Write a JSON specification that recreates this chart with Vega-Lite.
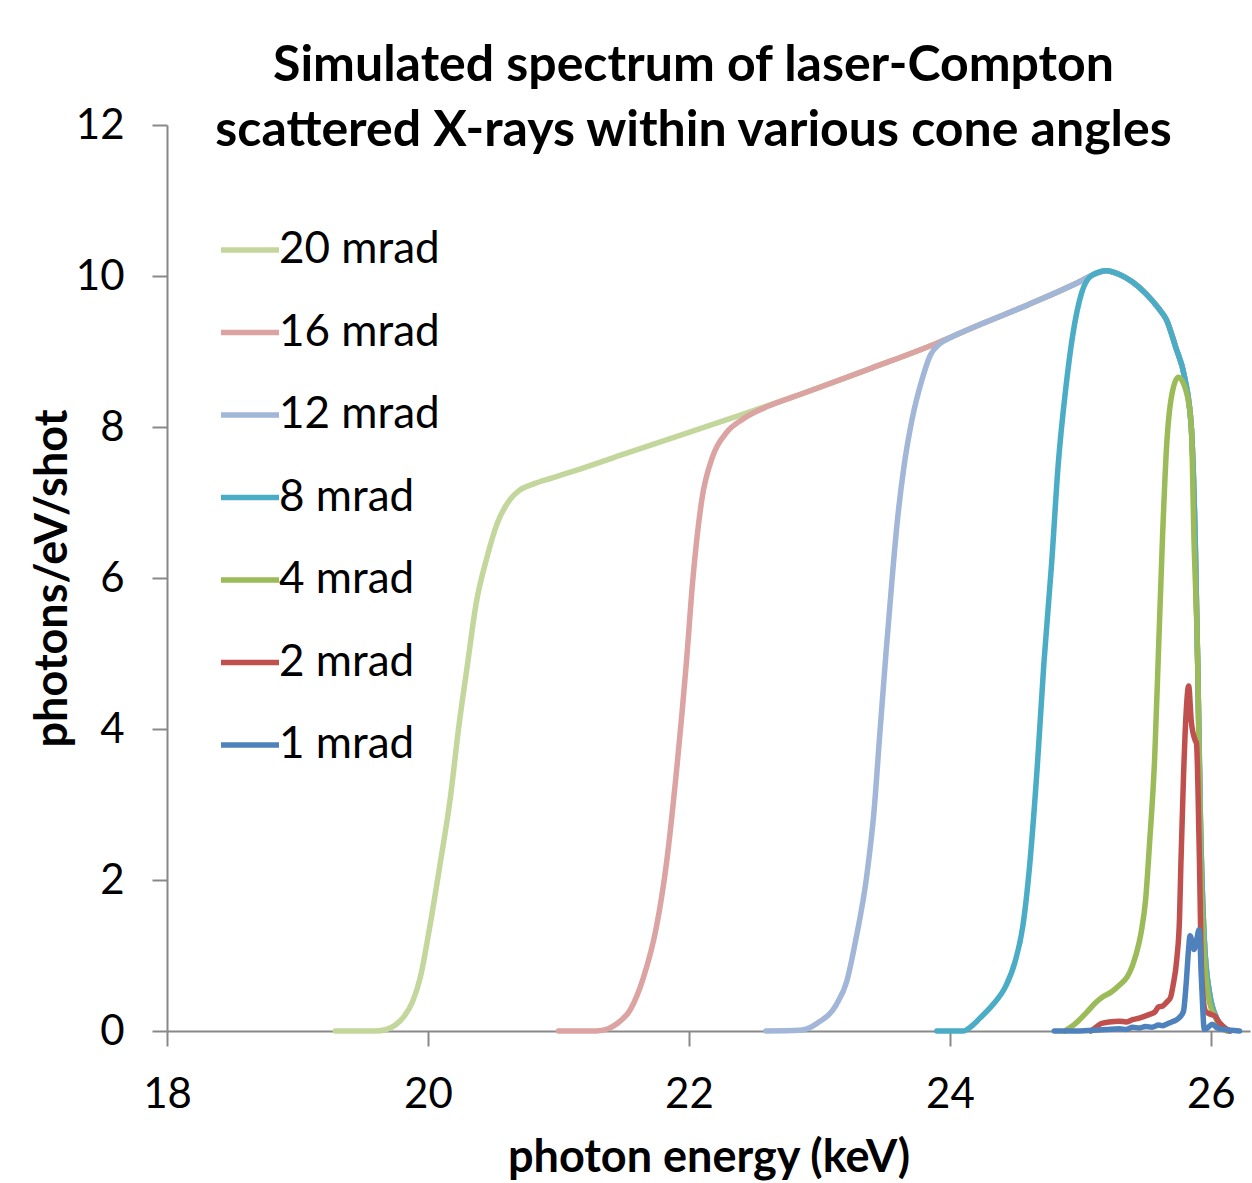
{
  "$schema": "https://vega.github.io/schema/vega-lite/v6.json",
  "autosize": "none",
  "width": 1083,
  "height": 906,
  "padding": {"left": 167, "top": 125, "right": 2, "bottom": 152},
  "background": "white",
  "title": {
    "text": ["Simulated spectrum of laser-Compton", "scattered X-rays within various cone angles"],
    "font": "Lato",
    "fontSize": 50,
    "fontWeight": "bold",
    "color": "black",
    "anchor": "middle",
    "dx": -15,
    "offset": -52,
    "lineHeight": 65
  },
  "config": {
    "view": {"stroke": null},
    "axis": {
      "grid": false,
      "domainColor": "#888888",
      "domainWidth": 2,
      "tickColor": "#888888",
      "tickWidth": 2,
      "tickSize": 15,
      "labelFont": "Lato",
      "labelFontSize": 42,
      "labelColor": "black",
      "labelPadding": 28,
      "labelFlush": false,
      "titleFont": "Lato",
      "titleFontSize": 45,
      "titleFontWeight": "bold",
      "titleColor": "black"
    },
    "legend": {
      "labelFont": "Lato",
      "labelFontSize": 44,
      "labelColor": "black",
      "labelLimit": 500
    }
  },
  "data": {
    "values": [
      {"angle": "20 mrad", "energy": 19.29, "photons": 0},
      {"angle": "20 mrad", "energy": 19.45, "photons": 0},
      {"angle": "20 mrad", "energy": 19.6, "photons": 0},
      {"angle": "20 mrad", "energy": 19.68, "photons": 0.02},
      {"angle": "20 mrad", "energy": 19.75, "photons": 0.08},
      {"angle": "20 mrad", "energy": 19.82, "photons": 0.2},
      {"angle": "20 mrad", "energy": 19.88, "photons": 0.38},
      {"angle": "20 mrad", "energy": 19.94, "photons": 0.7},
      {"angle": "20 mrad", "energy": 20.01, "photons": 1.34},
      {"angle": "20 mrad", "energy": 20.09, "photons": 2.18},
      {"angle": "20 mrad", "energy": 20.17, "photons": 3.07},
      {"angle": "20 mrad", "energy": 20.24, "photons": 4.08},
      {"angle": "20 mrad", "energy": 20.3, "photons": 4.82},
      {"angle": "20 mrad", "energy": 20.37, "photons": 5.67},
      {"angle": "20 mrad", "energy": 20.45, "photons": 6.26},
      {"angle": "20 mrad", "energy": 20.53, "photons": 6.72},
      {"angle": "20 mrad", "energy": 20.63, "photons": 7.04},
      {"angle": "20 mrad", "energy": 20.7, "photons": 7.16},
      {"angle": "20 mrad", "energy": 20.8, "photons": 7.24},
      {"angle": "20 mrad", "energy": 20.96, "photons": 7.33},
      {"angle": "20 mrad", "energy": 21.16, "photons": 7.44},
      {"angle": "20 mrad", "energy": 21.5, "photons": 7.64},
      {"angle": "20 mrad", "energy": 22.0, "photons": 7.93},
      {"angle": "20 mrad", "energy": 22.4, "photons": 8.16},
      {"angle": "20 mrad", "energy": 22.85, "photons": 8.43},
      {"angle": "20 mrad", "energy": 23.4, "photons": 8.78},
      {"angle": "20 mrad", "energy": 23.9, "photons": 9.11},
      {"angle": "20 mrad", "energy": 24.25, "photons": 9.37},
      {"angle": "20 mrad", "energy": 24.6, "photons": 9.62},
      {"angle": "20 mrad", "energy": 25.0, "photons": 9.93},
      {"angle": "20 mrad", "energy": 25.1, "photons": 10.02},
      {"angle": "20 mrad", "energy": 25.2, "photons": 10.07},
      {"angle": "20 mrad", "energy": 25.3, "photons": 10.02},
      {"angle": "20 mrad", "energy": 25.4, "photons": 9.92},
      {"angle": "20 mrad", "energy": 25.5, "photons": 9.77},
      {"angle": "20 mrad", "energy": 25.6, "photons": 9.57},
      {"angle": "20 mrad", "energy": 25.66, "photons": 9.42},
      {"angle": "20 mrad", "energy": 25.73, "photons": 9.06},
      {"angle": "20 mrad", "energy": 25.8, "photons": 8.65},
      {"angle": "20 mrad", "energy": 25.85, "photons": 8.0},
      {"angle": "20 mrad", "energy": 25.88, "photons": 6.5},
      {"angle": "20 mrad", "energy": 25.9, "photons": 4.8},
      {"angle": "20 mrad", "energy": 25.92, "photons": 2.8},
      {"angle": "20 mrad", "energy": 25.95, "photons": 1.2},
      {"angle": "20 mrad", "energy": 25.99, "photons": 0.5},
      {"angle": "20 mrad", "energy": 26.05, "photons": 0.15},
      {"angle": "20 mrad", "energy": 26.1, "photons": 0.05},
      {"angle": "20 mrad", "energy": 26.15, "photons": 0},

      {"angle": "16 mrad", "energy": 21.0, "photons": 0},
      {"angle": "16 mrad", "energy": 21.29, "photons": 0},
      {"angle": "16 mrad", "energy": 21.38, "photons": 0.03},
      {"angle": "16 mrad", "energy": 21.45, "photons": 0.1},
      {"angle": "16 mrad", "energy": 21.55, "photons": 0.28},
      {"angle": "16 mrad", "energy": 21.65, "photons": 0.7},
      {"angle": "16 mrad", "energy": 21.75, "photons": 1.37},
      {"angle": "16 mrad", "energy": 21.83, "photons": 2.25},
      {"angle": "16 mrad", "energy": 21.9, "photons": 3.36},
      {"angle": "16 mrad", "energy": 21.98, "photons": 4.87},
      {"angle": "16 mrad", "energy": 22.03, "photons": 5.98},
      {"angle": "16 mrad", "energy": 22.1, "photons": 7.05},
      {"angle": "16 mrad", "energy": 22.18, "photons": 7.6},
      {"angle": "16 mrad", "energy": 22.29, "photons": 7.93},
      {"angle": "16 mrad", "energy": 22.41, "photons": 8.1},
      {"angle": "16 mrad", "energy": 22.6, "photons": 8.27},
      {"angle": "16 mrad", "energy": 22.85, "photons": 8.43},
      {"angle": "16 mrad", "energy": 23.4, "photons": 8.78},
      {"angle": "16 mrad", "energy": 23.9, "photons": 9.11},
      {"angle": "16 mrad", "energy": 24.25, "photons": 9.37},
      {"angle": "16 mrad", "energy": 24.6, "photons": 9.62},
      {"angle": "16 mrad", "energy": 25.0, "photons": 9.93},
      {"angle": "16 mrad", "energy": 25.1, "photons": 10.02},
      {"angle": "16 mrad", "energy": 25.2, "photons": 10.07},
      {"angle": "16 mrad", "energy": 25.3, "photons": 10.02},
      {"angle": "16 mrad", "energy": 25.4, "photons": 9.92},
      {"angle": "16 mrad", "energy": 25.5, "photons": 9.77},
      {"angle": "16 mrad", "energy": 25.6, "photons": 9.57},
      {"angle": "16 mrad", "energy": 25.66, "photons": 9.42},
      {"angle": "16 mrad", "energy": 25.73, "photons": 9.06},
      {"angle": "16 mrad", "energy": 25.8, "photons": 8.65},
      {"angle": "16 mrad", "energy": 25.85, "photons": 8.0},
      {"angle": "16 mrad", "energy": 25.88, "photons": 6.5},
      {"angle": "16 mrad", "energy": 25.9, "photons": 4.8},
      {"angle": "16 mrad", "energy": 25.92, "photons": 2.8},
      {"angle": "16 mrad", "energy": 25.95, "photons": 1.2},
      {"angle": "16 mrad", "energy": 25.99, "photons": 0.5},
      {"angle": "16 mrad", "energy": 26.05, "photons": 0.15},
      {"angle": "16 mrad", "energy": 26.1, "photons": 0.05},
      {"angle": "16 mrad", "energy": 26.15, "photons": 0},

      {"angle": "12 mrad", "energy": 22.59, "photons": 0},
      {"angle": "12 mrad", "energy": 22.85, "photons": 0.01},
      {"angle": "12 mrad", "energy": 22.92, "photons": 0.04},
      {"angle": "12 mrad", "energy": 22.98, "photons": 0.1},
      {"angle": "12 mrad", "energy": 23.13, "photons": 0.35},
      {"angle": "12 mrad", "energy": 23.21, "photons": 0.66},
      {"angle": "12 mrad", "energy": 23.28, "photons": 1.22},
      {"angle": "12 mrad", "energy": 23.36, "photons": 2.02},
      {"angle": "12 mrad", "energy": 23.42, "photons": 2.94},
      {"angle": "12 mrad", "energy": 23.46, "photons": 3.87},
      {"angle": "12 mrad", "energy": 23.51, "photons": 5.0},
      {"angle": "12 mrad", "energy": 23.56, "photons": 6.05},
      {"angle": "12 mrad", "energy": 23.6, "photons": 6.8},
      {"angle": "12 mrad", "energy": 23.65, "photons": 7.5},
      {"angle": "12 mrad", "energy": 23.71, "photons": 8.1},
      {"angle": "12 mrad", "energy": 23.79, "photons": 8.65},
      {"angle": "12 mrad", "energy": 23.85, "photons": 8.95},
      {"angle": "12 mrad", "energy": 23.92, "photons": 9.1},
      {"angle": "12 mrad", "energy": 24.0, "photons": 9.18},
      {"angle": "12 mrad", "energy": 24.25, "photons": 9.37},
      {"angle": "12 mrad", "energy": 24.6, "photons": 9.62},
      {"angle": "12 mrad", "energy": 25.0, "photons": 9.93},
      {"angle": "12 mrad", "energy": 25.1, "photons": 10.02},
      {"angle": "12 mrad", "energy": 25.2, "photons": 10.07},
      {"angle": "12 mrad", "energy": 25.3, "photons": 10.02},
      {"angle": "12 mrad", "energy": 25.4, "photons": 9.92},
      {"angle": "12 mrad", "energy": 25.5, "photons": 9.77},
      {"angle": "12 mrad", "energy": 25.6, "photons": 9.57},
      {"angle": "12 mrad", "energy": 25.66, "photons": 9.42},
      {"angle": "12 mrad", "energy": 25.73, "photons": 9.06},
      {"angle": "12 mrad", "energy": 25.8, "photons": 8.65},
      {"angle": "12 mrad", "energy": 25.85, "photons": 8.0},
      {"angle": "12 mrad", "energy": 25.88, "photons": 6.5},
      {"angle": "12 mrad", "energy": 25.9, "photons": 4.8},
      {"angle": "12 mrad", "energy": 25.92, "photons": 2.8},
      {"angle": "12 mrad", "energy": 25.95, "photons": 1.2},
      {"angle": "12 mrad", "energy": 25.99, "photons": 0.5},
      {"angle": "12 mrad", "energy": 26.05, "photons": 0.15},
      {"angle": "12 mrad", "energy": 26.1, "photons": 0.05},
      {"angle": "12 mrad", "energy": 26.15, "photons": 0},

      {"angle": "8 mrad", "energy": 23.9, "photons": 0},
      {"angle": "8 mrad", "energy": 24.1, "photons": 0},
      {"angle": "8 mrad", "energy": 24.17, "photons": 0.07},
      {"angle": "8 mrad", "energy": 24.23, "photons": 0.17},
      {"angle": "8 mrad", "energy": 24.33, "photons": 0.35},
      {"angle": "8 mrad", "energy": 24.43, "photons": 0.6},
      {"angle": "8 mrad", "energy": 24.5, "photons": 0.92},
      {"angle": "8 mrad", "energy": 24.56, "photons": 1.4},
      {"angle": "8 mrad", "energy": 24.61, "photons": 2.17},
      {"angle": "8 mrad", "energy": 24.67, "photons": 3.51},
      {"angle": "8 mrad", "energy": 24.72, "photons": 4.86},
      {"angle": "8 mrad", "energy": 24.78, "photons": 6.2},
      {"angle": "8 mrad", "energy": 24.83, "photons": 7.5},
      {"angle": "8 mrad", "energy": 24.89, "photons": 8.54},
      {"angle": "8 mrad", "energy": 24.94, "photons": 9.2},
      {"angle": "8 mrad", "energy": 25.01, "photons": 9.78},
      {"angle": "8 mrad", "energy": 25.09, "photons": 10.01},
      {"angle": "8 mrad", "energy": 25.2, "photons": 10.07},
      {"angle": "8 mrad", "energy": 25.3, "photons": 10.02},
      {"angle": "8 mrad", "energy": 25.4, "photons": 9.92},
      {"angle": "8 mrad", "energy": 25.5, "photons": 9.77},
      {"angle": "8 mrad", "energy": 25.6, "photons": 9.57},
      {"angle": "8 mrad", "energy": 25.66, "photons": 9.42},
      {"angle": "8 mrad", "energy": 25.73, "photons": 9.06},
      {"angle": "8 mrad", "energy": 25.8, "photons": 8.65},
      {"angle": "8 mrad", "energy": 25.85, "photons": 8.0},
      {"angle": "8 mrad", "energy": 25.88, "photons": 6.5},
      {"angle": "8 mrad", "energy": 25.9, "photons": 4.8},
      {"angle": "8 mrad", "energy": 25.92, "photons": 2.8},
      {"angle": "8 mrad", "energy": 25.95, "photons": 1.2},
      {"angle": "8 mrad", "energy": 25.99, "photons": 0.5},
      {"angle": "8 mrad", "energy": 26.05, "photons": 0.15},
      {"angle": "8 mrad", "energy": 26.1, "photons": 0.05},
      {"angle": "8 mrad", "energy": 26.15, "photons": 0},

      {"angle": "4 mrad", "energy": 24.88, "photons": 0},
      {"angle": "4 mrad", "energy": 24.95, "photons": 0.08},
      {"angle": "4 mrad", "energy": 25.05, "photons": 0.25},
      {"angle": "4 mrad", "energy": 25.12, "photons": 0.38},
      {"angle": "4 mrad", "energy": 25.17, "photons": 0.45},
      {"angle": "4 mrad", "energy": 25.24, "photons": 0.52},
      {"angle": "4 mrad", "energy": 25.3, "photons": 0.61},
      {"angle": "4 mrad", "energy": 25.36, "photons": 0.72},
      {"angle": "4 mrad", "energy": 25.4, "photons": 0.87},
      {"angle": "4 mrad", "energy": 25.45, "photons": 1.17},
      {"angle": "4 mrad", "energy": 25.47, "photons": 1.35},
      {"angle": "4 mrad", "energy": 25.5, "photons": 1.74},
      {"angle": "4 mrad", "energy": 25.53, "photons": 2.48},
      {"angle": "4 mrad", "energy": 25.57, "photons": 3.64},
      {"angle": "4 mrad", "energy": 25.6, "photons": 5.1},
      {"angle": "4 mrad", "energy": 25.63, "photons": 6.56},
      {"angle": "4 mrad", "energy": 25.66, "photons": 7.72},
      {"angle": "4 mrad", "energy": 25.7, "photons": 8.42},
      {"angle": "4 mrad", "energy": 25.75, "photons": 8.66},
      {"angle": "4 mrad", "energy": 25.81, "photons": 8.48},
      {"angle": "4 mrad", "energy": 25.85, "photons": 8.01},
      {"angle": "4 mrad", "energy": 25.87, "photons": 6.56},
      {"angle": "4 mrad", "energy": 25.9, "photons": 4.81},
      {"angle": "4 mrad", "energy": 25.92, "photons": 2.48},
      {"angle": "4 mrad", "energy": 25.95, "photons": 1.02},
      {"angle": "4 mrad", "energy": 25.99, "photons": 0.38},
      {"angle": "4 mrad", "energy": 26.03, "photons": 0.2},
      {"angle": "4 mrad", "energy": 26.06, "photons": 0.09},
      {"angle": "4 mrad", "energy": 26.12, "photons": 0},

      {"angle": "2 mrad", "energy": 25.08, "photons": 0},
      {"angle": "2 mrad", "energy": 25.12, "photons": 0.05},
      {"angle": "2 mrad", "energy": 25.16, "photons": 0.1},
      {"angle": "2 mrad", "energy": 25.22, "photons": 0.12},
      {"angle": "2 mrad", "energy": 25.3, "photons": 0.13},
      {"angle": "2 mrad", "energy": 25.35, "photons": 0.12},
      {"angle": "2 mrad", "energy": 25.4, "photons": 0.15},
      {"angle": "2 mrad", "energy": 25.45, "photons": 0.17},
      {"angle": "2 mrad", "energy": 25.5, "photons": 0.2},
      {"angle": "2 mrad", "energy": 25.53, "photons": 0.22},
      {"angle": "2 mrad", "energy": 25.57, "photons": 0.25},
      {"angle": "2 mrad", "energy": 25.6, "photons": 0.32},
      {"angle": "2 mrad", "energy": 25.63, "photons": 0.33},
      {"angle": "2 mrad", "energy": 25.66, "photons": 0.38},
      {"angle": "2 mrad", "energy": 25.69, "photons": 0.44},
      {"angle": "2 mrad", "energy": 25.71, "photons": 0.6},
      {"angle": "2 mrad", "energy": 25.74, "photons": 0.97},
      {"angle": "2 mrad", "energy": 25.76, "photons": 1.5},
      {"angle": "2 mrad", "energy": 25.77, "photons": 2.19},
      {"angle": "2 mrad", "energy": 25.79, "photons": 3.35},
      {"angle": "2 mrad", "energy": 25.81, "photons": 4.2},
      {"angle": "2 mrad", "energy": 25.83, "photons": 4.57},
      {"angle": "2 mrad", "energy": 25.85, "photons": 4.1},
      {"angle": "2 mrad", "energy": 25.88, "photons": 3.85},
      {"angle": "2 mrad", "energy": 25.89, "photons": 3.81},
      {"angle": "2 mrad", "energy": 25.91, "photons": 2.48},
      {"angle": "2 mrad", "energy": 25.93, "photons": 0.73},
      {"angle": "2 mrad", "energy": 25.96, "photons": 0.26},
      {"angle": "2 mrad", "energy": 26.0, "photons": 0.22},
      {"angle": "2 mrad", "energy": 26.03, "photons": 0.2},
      {"angle": "2 mrad", "energy": 26.06, "photons": 0.12},
      {"angle": "2 mrad", "energy": 26.1, "photons": 0.05},
      {"angle": "2 mrad", "energy": 26.14, "photons": 0},

      {"angle": "1 mrad", "energy": 24.8, "photons": 0},
      {"angle": "1 mrad", "energy": 25.0, "photons": 0},
      {"angle": "1 mrad", "energy": 25.1, "photons": 0.01},
      {"angle": "1 mrad", "energy": 25.2, "photons": 0.02},
      {"angle": "1 mrad", "energy": 25.3, "photons": 0.03},
      {"angle": "1 mrad", "energy": 25.35, "photons": 0.02},
      {"angle": "1 mrad", "energy": 25.4, "photons": 0.05},
      {"angle": "1 mrad", "energy": 25.45, "photons": 0.04},
      {"angle": "1 mrad", "energy": 25.5, "photons": 0.06},
      {"angle": "1 mrad", "energy": 25.55, "photons": 0.05},
      {"angle": "1 mrad", "energy": 25.6, "photons": 0.08},
      {"angle": "1 mrad", "energy": 25.63, "photons": 0.07},
      {"angle": "1 mrad", "energy": 25.66, "photons": 0.09},
      {"angle": "1 mrad", "energy": 25.7, "photons": 0.12},
      {"angle": "1 mrad", "energy": 25.73, "photons": 0.14},
      {"angle": "1 mrad", "energy": 25.76, "photons": 0.18},
      {"angle": "1 mrad", "energy": 25.79, "photons": 0.26},
      {"angle": "1 mrad", "energy": 25.81, "photons": 0.61},
      {"angle": "1 mrad", "energy": 25.83, "photons": 1.1},
      {"angle": "1 mrad", "energy": 25.84, "photons": 1.26},
      {"angle": "1 mrad", "energy": 25.86, "photons": 1.15},
      {"angle": "1 mrad", "energy": 25.87, "photons": 1.08},
      {"angle": "1 mrad", "energy": 25.89, "photons": 1.2},
      {"angle": "1 mrad", "energy": 25.91, "photons": 1.34},
      {"angle": "1 mrad", "energy": 25.93, "photons": 0.6},
      {"angle": "1 mrad", "energy": 25.95, "photons": 0.02},
      {"angle": "1 mrad", "energy": 25.98, "photons": 0.05},
      {"angle": "1 mrad", "energy": 26.01, "photons": 0.09},
      {"angle": "1 mrad", "energy": 26.05, "photons": 0.04},
      {"angle": "1 mrad", "energy": 26.1, "photons": 0.02},
      {"angle": "1 mrad", "energy": 26.15, "photons": 0.01},
      {"angle": "1 mrad", "energy": 26.22, "photons": 0}
    ]
  },
  "mark": {"type": "line", "strokeWidth": 5.5, "strokeCap": "round", "strokeJoin": "round", "interpolate": "monotone"},
  "encoding": {
    "x": {
      "field": "energy",
      "type": "quantitative",
      "scale": {"domain": [18, 26.3], "nice": false, "zero": false},
      "axis": {"values": [18, 20, 22, 24, 26], "title": "photon energy (keV)", "titlePadding": 20, "labelPadding": 28}
    },
    "y": {
      "field": "photons",
      "type": "quantitative",
      "scale": {"domain": [0, 12], "nice": false},
      "axis": {"values": [0, 2, 4, 6, 8, 10, 12], "title": "photons/eV/shot", "titlePadding": 0}
    },
    "color": {
      "field": "angle",
      "type": "nominal",
      "sort": ["20 mrad", "16 mrad", "12 mrad", "8 mrad", "4 mrad", "2 mrad", "1 mrad"],
      "scale": {
        "domain": ["20 mrad", "16 mrad", "12 mrad", "8 mrad", "4 mrad", "2 mrad", "1 mrad"],
        "range": ["#c3d69b", "#dba3a1", "#a2b6d8", "#4bacc6", "#9bbb59", "#c0504d", "#4f81bd"]
      },
      "legend": {
        "title": null,
        "orient": "none",
        "legendX": 51,
        "legendY": 93,
        "symbolType": "stroke",
        "symbolSize": 3364,
        "symbolStrokeWidth": 5.5,
        "labelOffset": -3,
        "labelLimit": 500,
        "rowPadding": 28.5
      }
    }
  }
}
